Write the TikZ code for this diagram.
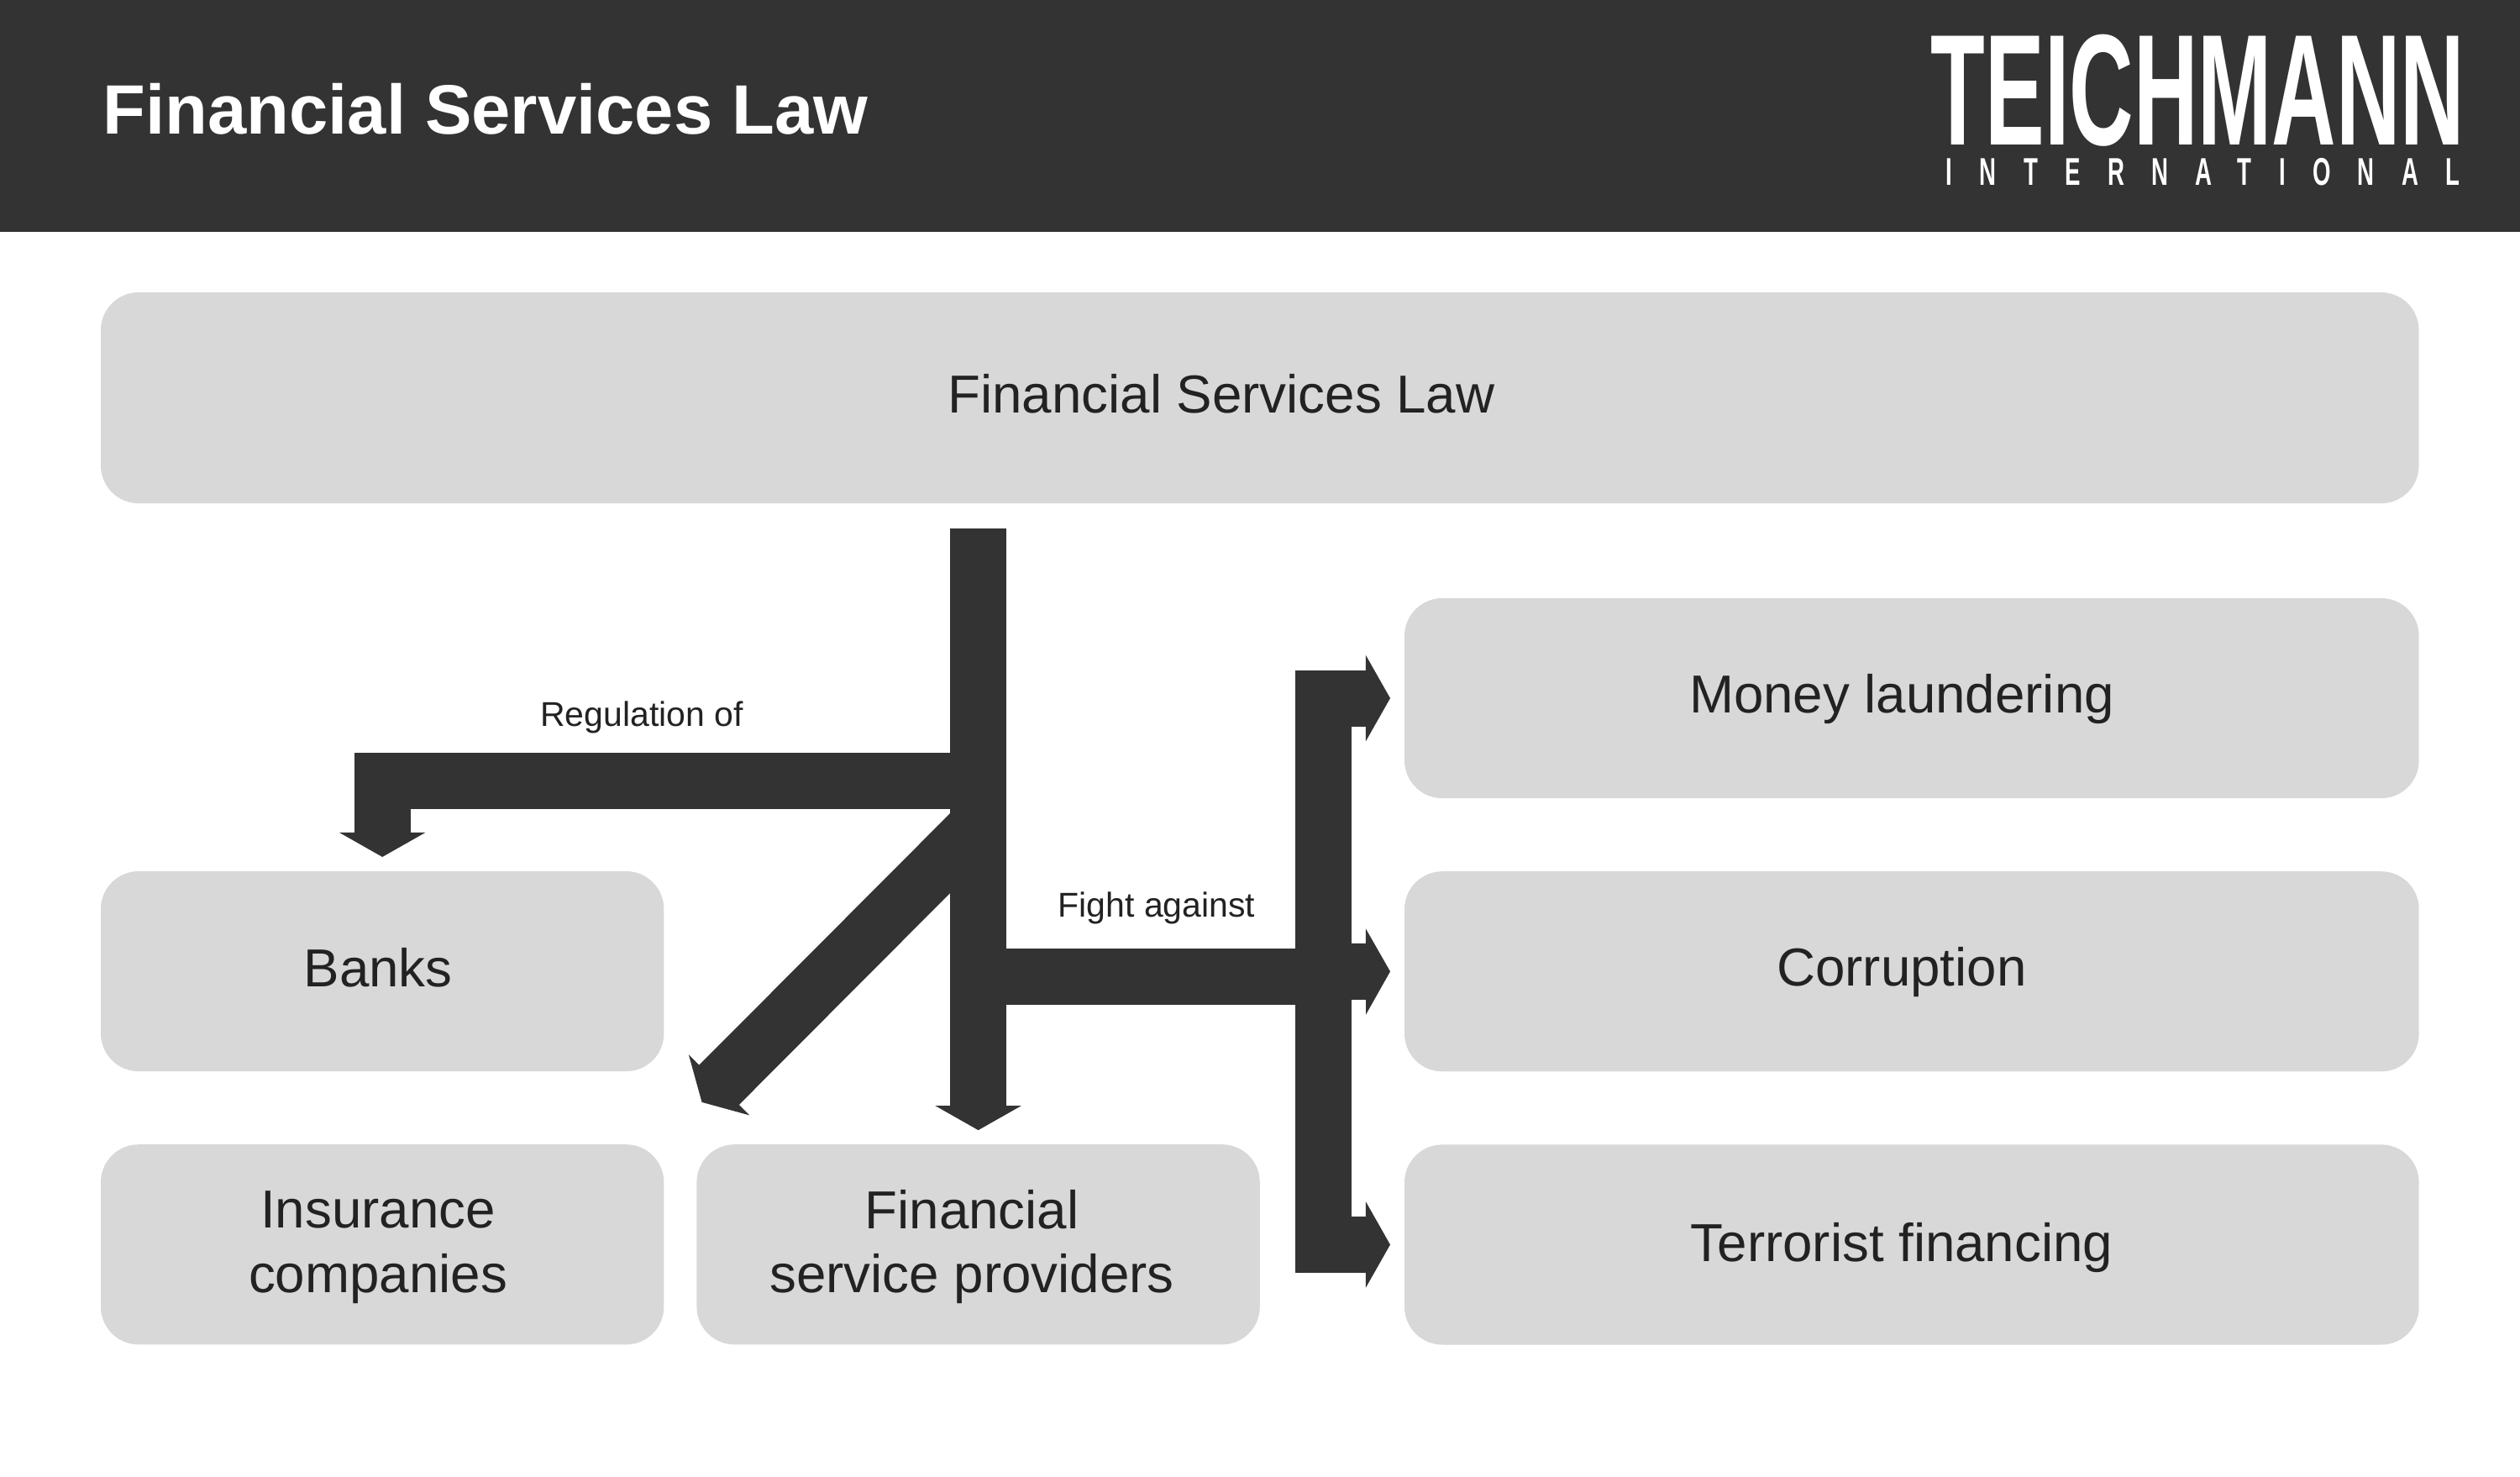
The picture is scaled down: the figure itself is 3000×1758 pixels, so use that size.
\documentclass[tikz,border=0pt]{standalone}
\usepackage{xcolor}
\usepackage{fontspec}
\setmainfont{Liberation Sans}
\newfontfamily\logosubfont[LetterSpace=117]{Liberation Sans}
\usetikzlibrary{arrows.meta,positioning,calc}
\definecolor{barcolor}{HTML}{333333}
\definecolor{boxcolor}{HTML}{D8D8D8}
\definecolor{inkcolor}{HTML}{222222}

\begin{document}
\begin{tikzpicture}[
        x=0.01cm, y=-0.01cm,
        node distance=8.7mm and 3.9mm,
        headerbar/.style={rectangle, fill=barcolor, inner sep=0pt, outer sep=0pt, minimum width=30cm, minimum height=2.76cm},
        box/.style={rectangle, rounded corners=4.5mm, fill=boxcolor, inner sep=0pt, outer sep=0pt},
        smallbox/.style={box, minimum width=67mm, minimum height=23.8mm},
        widebox/.style={box, minimum width=120.7mm, minimum height=23.8mm},
        boxtext/.style={align=center, text=inkcolor, inner sep=0pt, font=\fontsize{18.1}{21.8}\selectfont},
        flowtext/.style={text=inkcolor, inner sep=0pt, font=\fontsize{11.65}{13}\selectfont},
        flow/.style={draw=barcolor, line width=6.7mm, line join=miter},
        flowarrow/.style={flow, -{Triangle[width=10.1mm,length=2.9mm]}, shorten >=1.7mm}
    ]
        \useasboundingbox (0,0) rectangle (3000,1758);

        % header
        \node[headerbar, anchor=north west] (header) at (0,0) {};
        \node[anchor=base west, inner sep=0pt, text=white, font=\fontsize{23.65}{28}\selectfont\bfseries] (title) at (122,160) {Financial Services Law};
        \node[anchor=base west, inner sep=0pt, text=white, font=\fontsize{53.5}{60}\selectfont\bfseries] (logo) at (2298,173) {\scalebox{0.563}[1]{TEICHMANN}};
        \node[anchor=base west, inner sep=0pt, text=white, font=\fontsize{13.1}{16}\selectfont\logosubfont\bfseries] (logosub) at (2316,221) {\scalebox{0.6}[1]{INTERNATIONAL}};

        % boxes
        \node[box, minimum width=27.58cm, minimum height=25.1mm, anchor=north west] (law) at (120,348) {};
        \node[widebox, anchor=north west] (money) at (1672,712) {};
        \node[widebox, below=of money] (corruption) {};
        \node[widebox, below=of corruption] (terrorist) {};
        \node[smallbox, anchor=north west] (banks) at (120,1037) {};
        \node[smallbox, below=of banks] (insurance) {};
        \node[smallbox, right=of insurance] (providers) {};

        \node[boxtext] (lawtext) at (1454,469) {Financial Services Law};
        \node[boxtext] (moneytext) at (2264,832) {Money laundering};
        \node[boxtext] (corruptiontext) at (2264,1157) {Corruption};
        \node[boxtext] (terroristtext) at (2264,1485) {Terrorist financing};
        \node[boxtext] (bankstext) at (450,1152) {Banks};
        \node[boxtext] (insurancetext) at (450,1485) {Insurance\\companies};
        \node[boxtext] (providerstext) at (1157,1484) {Financial\\service providers};

        \node[flowtext] (regulation) at (764,854) {Regulation of};
        \node[flowtext] (fight) at (1377,1081) {Fight against};

        % joints on the trunk and on the bus
        \coordinate (regjoin) at (1164,929.5);
        \coordinate (diagjoin) at (1164,982.5);
        \coordinate (fightjoin) at (1164,1162.5);
        \coordinate (busjoin) at (1575.5,1162.5);
        \coordinate (busmid) at (1575.5,1156.5);

        % arrows
        \draw[flowarrow, shorten <=3mm] (law.south -| providers.north) -- (providers.north);
        \draw[flowarrow] (regjoin) -| (banks.north);
        \draw[flowarrow, shorten >=7.1mm] (diagjoin) -- ([xshift=-0.5mm]insurance.north east);
        \draw[flow] (fightjoin) -- (busjoin);
        \draw[flowarrow] (busmid) |- (money.west);
        \draw[flowarrow] (busmid) -- (corruption.west);
        \draw[flowarrow] (busmid) |- (terrorist.west);
    \end{tikzpicture}
\end{document}
